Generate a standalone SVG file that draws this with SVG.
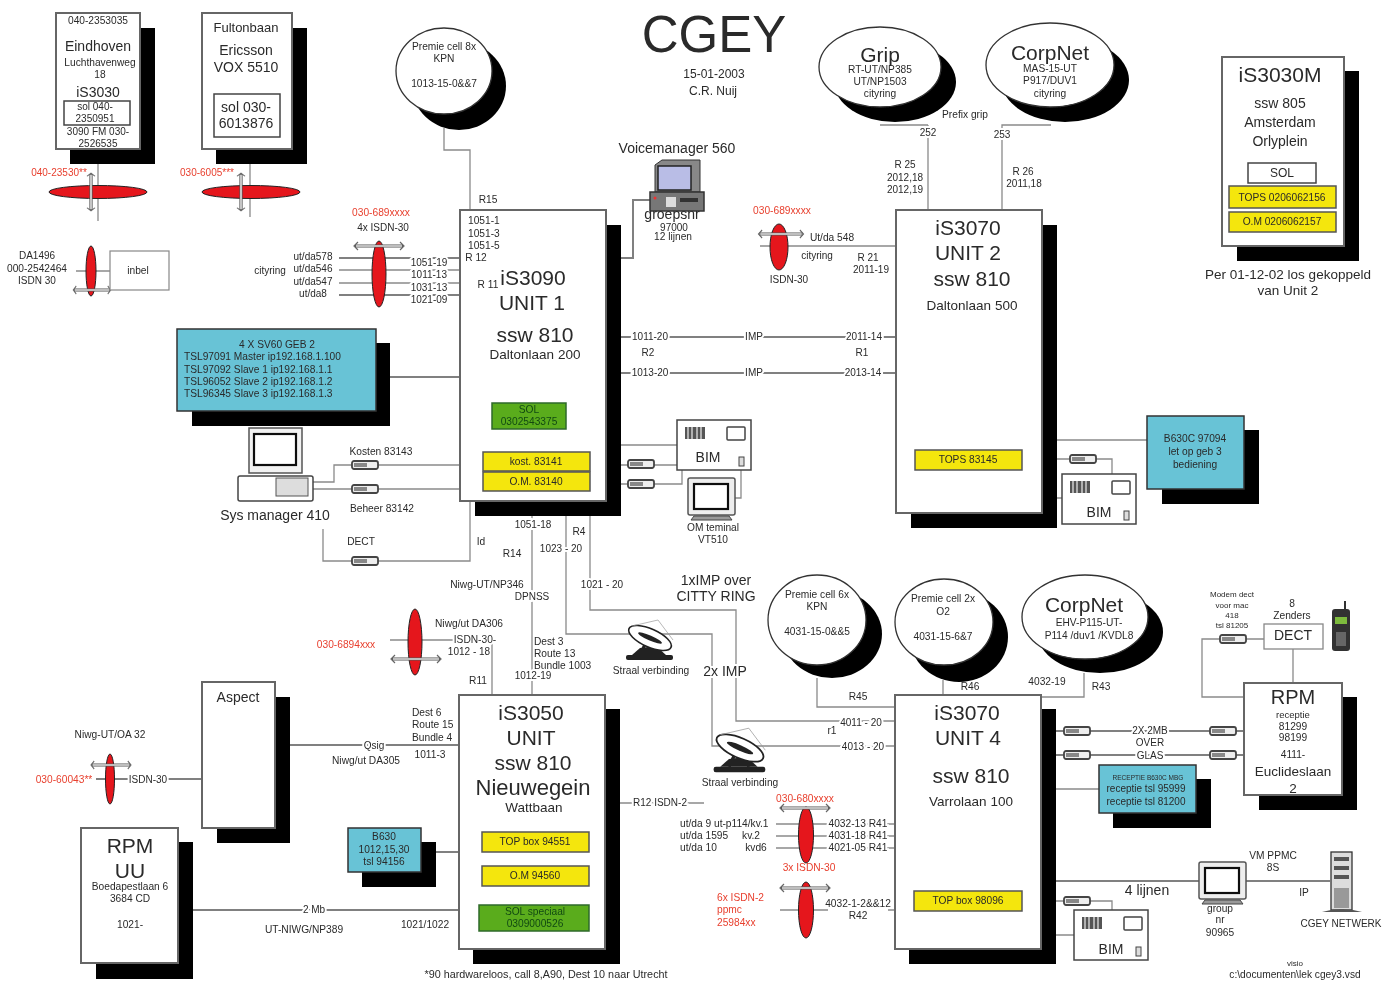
<svg xmlns="http://www.w3.org/2000/svg" xmlns:xlink="http://www.w3.org/1999/xlink" width="1394" height="982" viewBox="0 0 1394 982">
<style>
text{font-family:"Liberation Sans",Arial,sans-serif;text-anchor:middle;fill:#2a2a2a}
.s8{font-size:8px}.s9{font-size:10.2px}.s10{font-size:10px}.s12{font-size:12px}.s13{font-size:13.5px}.s14{font-size:14px}.s21{font-size:21px}
.l{text-anchor:start}
.r{fill:#e8402f}
.dg{fill:#124a10}
.onl{stroke:#fff;stroke-width:4px;paint-order:stroke}
.sh{fill:#000}
.bx{fill:#fff;stroke:#666;stroke-width:2}
.ib{fill:#fff;stroke:#444;stroke-width:1.5}
.yl{fill:#f4e60a;stroke:#555;stroke-width:1.5}
.gr{fill:#5aac1e;stroke:#2f6a2a;stroke-width:1.5}
.cy{fill:#68c3d6;stroke:#333;stroke-width:1.5}
.red{fill:#e5141f;stroke:#222;stroke-width:1}
.c{fill:none;stroke:#8a8a8a;stroke-width:1.3}
.c2{fill:none;stroke:#808080;stroke-width:2}
.dash{fill:none;stroke:#555;stroke-width:3.2}
.dain{fill:none;stroke:#e2e2e2;stroke-width:1.6}
.dp{fill:none;stroke:#666;stroke-width:1.2}
</style>
<defs>
<filter id="soft" filterUnits="userSpaceOnUse" x="0" y="0" width="1394" height="982"><feGaussianBlur stdDeviation="0.6"/></filter>
<g id="plug"><rect x="0" y="-4" width="26" height="8" rx="2" fill="#eee" stroke="#444" stroke-width="1.8"/><rect x="2" y="-2" width="13" height="4" fill="#888"/></g>
<g id="dah"><path class="dash" d="M-24 0H24"/><path class="dp" d="M-21 -4L-25 0L-21 4M21 -4L25 0L21 4"/><path class="dain" d="M-23 0H23"/></g>
<g id="bim"><rect x="0" y="0" width="74" height="50" class="ib"/><path d="M8 7h20v12H8z" fill="#555"/><path d="M11 7v12M15 7v12M20 7v12M24 7v12" stroke="#eee" stroke-width="1.2"/><rect x="50" y="7" width="18" height="13" rx="1" fill="#fff" stroke="#444" stroke-width="1.5"/><rect x="62" y="37" width="5" height="9" fill="#ddd" stroke="#444"/></g>
<g id="mon"><rect x="0" y="0" width="47" height="37" rx="2" fill="#eee" stroke="#555" stroke-width="1.5"/><rect x="6" y="6" width="34" height="25" fill="#fff" stroke="#111" stroke-width="2.2"/><path d="M6 38h35l3 4H3z" fill="#999" stroke="#444"/></g>
<g id="dish"><path d="M-10 10L-18 17H16L6 8" fill="#222"/><path d="M-3 2L-10 17M3 3L8 17" stroke="#222" stroke-width="3"/><rect x="-24" y="17" width="47" height="5" rx="2" fill="#222"/><ellipse rx="23" ry="9" transform="rotate(24)" fill="#fff" stroke="#222" stroke-width="1.6"/><ellipse rx="13" ry="2.5" transform="rotate(24)" fill="#222"/><path d="M-18 -12L8 -18L23 2" fill="none" stroke="#999" stroke-width=".7"/></g>
</defs>
<g filter="url(#soft)">
<g id="connectors">
<path class="c" d="M98 160V221M250 145V217"/>
<path class="c" d="M76 271H110"/>
<path class="c2" d="M339 258H460M339 295H460"/><path class="c" d="M339 270H460M339 283H460M470 270V295"/>
<path class="c" d="M444 128V150H470V210"/>
<path class="c2" d="M621 258H633V200H650"/>
<path class="c" d="M760 246H896"/>
<path class="c2" d="M621 337H896M621 373H896"/>
<path class="c2" d="M390 377H461"/>
<path class="c" d="M313 482H334V465H463M313 489H460"/>
<path class="c" d="M323 529V561H470V500"/>
<path class="c" d="M621 445H677M590 465H677M590 484H682V470M741 470V498H735"/>
<path class="c" d="M532 516V695M566 516V634H712V746H896M590 516V610H736V721H896"/>
<path class="c" d="M928 125H880M928 125V210M1051 125H1002V210"/>
<path class="c" d="M1057 440H1147M1022 459H1112V474M1056 498H1062"/>
<path class="c" d="M390 640H492V695"/>
<path class="c2" d="M290 745H459"/><path class="c2" d="M96 779H202"/>
<path class="c2" d="M193 910H459M436 852H459"/>
<path class="c" d="M620 803H704"/>
<path class="c" d="M817 678V707H895M943 680V695M1084 673V697H1003"/>
<path class="c" d="M776 824H895M776 836H895M776 848H895M780 910H828M888 910L895 910"/>
<path class="c2" d="M1056 731H1244M1056 755H1244"/>
<path class="c" d="M1056 789H1099M1293 649V683M1245 639H1264"/>
<path class="c" d="M1220 639H1202V697H1244"/>
<path class="c2" d="M1036 881H1199M1246 881H1330"/>
<path class="c" d="M1022 901H1112V910M1056 935H1074"/>
</g>

<g id="title"><text x="714" y="52" font-size="51">CGEY</text><text x="714" y="78" class="s12">15-01-2003</text><text x="713" y="95" class="s12">C.R. Nuij</text></g>

<g id="eindhoven"><rect x="70" y="28" width="85" height="136" class="sh"/><rect x="56" y="13" width="84" height="136" class="bx"/><rect x="64" y="101" width="66" height="24" class="ib"/>
<text x="98" y="24" class="s9">040-2353035</text><text x="98" y="51" font-size="14">Eindhoven</text><text x="100" y="66" class="s9">Luchthavenweg</text><text x="100" y="78" class="s9">18</text><text x="98" y="97" font-size="14">iS3030</text><text x="95" y="110" class="s10">sol 040-</text><text x="95" y="122" class="s10">2350951</text><text x="98" y="135" class="s10">3090 FM 030-</text><text x="98" y="147" class="s10">2526535</text></g>
<g id="fultonbaan"><rect x="216" y="28" width="91" height="136" class="sh"/><rect x="202" y="13" width="90" height="136" class="bx"/><rect x="214" y="94" width="66" height="43" class="ib"/>
<text x="246" y="32" font-size="13">Fultonbaan</text><text x="246" y="55" font-size="14">Ericsson</text><text x="246" y="72" font-size="14">VOX 5510</text><text x="246" y="112" font-size="14">sol 030-</text><text x="246" y="128" font-size="14">6013876</text></g>
<g id="trunk-eindhoven"><ellipse cx="98" cy="192" rx="49" ry="6.5" class="red"/><use href="#dah" transform="translate(91,192) rotate(90) scale(.75,1)"/><text x="59" y="176" class="s10 r">040-23530**</text></g>
<g id="trunk-fulton"><ellipse cx="251" cy="192" rx="49" ry="6.5" class="red"/><use href="#dah" transform="translate(241,192) rotate(90) scale(.75,1)"/><text x="207" y="176" class="s10 r">030-6005***</text></g>
<g id="trunk-inbel"><ellipse cx="91" cy="271" rx="5" ry="25" class="red"/><use href="#dah" transform="translate(92,290) scale(.75,1)"/><text x="37" y="259" class="s10">DA1496</text><text x="37" y="272" class="s9">000-2542464</text><text x="37" y="284" class="s10">ISDN 30</text></g>
<g id="inbel"><rect x="110" y="251" width="59" height="39" fill="#fff" stroke="#888" stroke-width="1.2"/><text x="138" y="274" class="s9">inbel</text></g>
<g id="trunk-citying"><ellipse cx="379" cy="274" rx="7" ry="33" class="red"/><use href="#dah" transform="translate(379,246)"/>
<text x="381" y="216" class="s9 r">030-689xxxx</text><text x="383" y="231" class="s10">4x ISDN-30</text><text x="270" y="274" class="s10">cityring</text>
<text x="313" y="260" class="s10">ut/da578</text><text x="313" y="272" class="s10">ut/da546</text><text x="313" y="285" class="s10">ut/da547</text><text x="313" y="297" class="s10">ut/da8</text>
<text x="429" y="266" class="s10 onl">1051-19</text><text x="429" y="278" class="s10 onl">1011-13</text><text x="429" y="291" class="s10 onl">1031-13</text><text x="429" y="303" class="s10 onl">1021-09</text></g>
<g id="premie-8x"><ellipse cx="459" cy="86" rx="47" ry="44" class="sh"/><ellipse cx="444" cy="71" rx="48" ry="43" fill="#fff" stroke="#333" stroke-width="1.3"/><text x="444" y="50" class="s9">Premie cell 8x</text><text x="444" y="62" class="s9">KPN</text><text x="444" y="87" class="s9">1013-15-0&amp;&amp;7</text></g>

<g id="is3090"><rect x="475" y="225" width="146" height="291" class="sh"/><rect x="460" y="210" width="146" height="291" class="bx"/>
<rect x="492" y="403" width="74" height="26" class="gr"/><rect x="483" y="452" width="107" height="19" class="yl"/><rect x="483" y="472" width="107" height="19" class="yl"/>
<text x="468" y="224" class="s9 l">1051-1</text><text x="468" y="237" class="s9 l">1051-3</text><text x="468" y="249" class="s9 l">1051-5</text><text x="476" y="261" class="s9">R 12</text><text x="488" y="288" class="s9">R 11</text>
<text x="533" y="285" class="s21">iS3090</text><text x="532" y="310" class="s21">UNIT 1</text><text x="535" y="342" class="s21">ssw 810</text><text x="535" y="359" class="s13">Daltonlaan 200</text>
<text x="529" y="413" class="s9 dg">SOL</text><text x="529" y="425" class="s9 dg">0302543375</text><text x="536" y="465" class="s9">kost. 83141</text><text x="536" y="485" class="s9">O.M. 83140</text></g>
<text x="488" y="203" class="s9">R15</text>

<g id="voicemanager"><text x="677" y="153" class="s14">Voicemanager 560</text>
<path d="M655 165l7-5h38v32h-45z" fill="#888" stroke="#333"/><rect x="658" y="166" width="33" height="24" fill="#b9bde6" stroke="#222" stroke-width="1.5"/><rect x="650" y="192" width="54" height="19" fill="#777" stroke="#333" stroke-width="1.5"/><rect x="666" y="197" width="10" height="10" fill="#ddd"/><rect x="680" y="198" width="18" height="4" fill="#333"/><circle cx="655" cy="198" r="1.5" fill="#e33"/>
<text x="672" y="219" class="s14">groepsnr</text><text x="674" y="231" class="s10">97000</text><text x="673" y="240" class="s9">12 lijnen</text></g>
<g id="trunk-unit2"><ellipse cx="779" cy="247" rx="9" ry="23" class="red"/><use href="#dah" transform="translate(781,234) scale(.9,1)"/><text x="782" y="214" class="s9 r">030-689xxxx</text><text x="832" y="241" class="s9">Ut/da 548</text><text x="817" y="259" class="s10">cityring</text><text x="789" y="283" class="s10">ISDN-30</text><text x="868" y="261" class="s10">R 21</text><text x="871" y="273" class="s10">2011-19</text></g>
<g id="links12"><text x="650" y="340" class="s10 onl">1011-20</text><text x="754" y="340" class="s10 onl">IMP</text><text x="864" y="340" class="s10 onl">2011-14</text><text x="648" y="356" class="s10">R2</text><text x="862" y="356" class="s10">R1</text><text x="650" y="376" class="s10 onl">1013-20</text><text x="754" y="376" class="s10 onl">IMP</text><text x="863" y="376" class="s10 onl">2013-14</text></g>

<g id="grip"><ellipse cx="895" cy="82" rx="61" ry="40" class="sh"/><ellipse cx="880" cy="67" rx="61" ry="40" fill="#fff" stroke="#333" stroke-width="1.3"/><text x="880" y="62" class="s21">Grip</text><text x="880" y="73" class="s9">RT-UT/NP385</text><text x="880" y="85" class="s9">UT/NP1503</text><text x="880" y="97" class="s9">cityring</text></g>
<g id="corpnet-top"><ellipse cx="1065" cy="80" rx="64" ry="42" class="sh"/><ellipse cx="1050" cy="65" rx="64" ry="42" fill="#fff" stroke="#333" stroke-width="1.3"/><text x="1050" y="60" class="s21">CorpNet</text><text x="1050" y="72" class="s9">MAS-15-UT</text><text x="1050" y="84" class="s9">P917/DUV1</text><text x="1050" y="97" class="s9">cityring</text></g>
<g id="labels-top"><text x="965" y="118" class="s9">Prefix grip</text><text x="928" y="136" class="s10 onl">252</text><text x="1002" y="138" class="s10 onl">253</text><text x="905" y="168" class="s10">R 25</text><text x="905" y="181" class="s10">2012,18</text><text x="905" y="193" class="s10">2012,19</text><text x="1023" y="175" class="s10">R 26</text><text x="1024" y="187" class="s10">2011,18</text></g>

<g id="is3070-2"><rect x="911" y="225" width="146" height="303" class="sh"/><rect x="896" y="210" width="146" height="303" class="bx"/><rect x="915" y="450" width="107" height="20" class="yl"/>
<text x="968" y="235" class="s21">iS3070</text><text x="968" y="260" class="s21">UNIT 2</text><text x="972" y="286" class="s21">ssw 810</text><text x="972" y="310" class="s13">Daltonlaan  500</text><text x="968" y="463" class="s9">TOPS 83145</text></g>
<g id="b630c"><rect x="1162" y="430" width="97" height="74" class="sh"/><rect x="1147" y="416" width="97" height="73" class="cy"/><text x="1195" y="442" class="s9">B630C 97094</text><text x="1195" y="455" class="s9">let op geb 3</text><text x="1195" y="468" class="s9">bediening</text></g>
<g id="bim-2"><use href="#bim" transform="translate(1062,474)"/><text x="1099" y="517" class="s14">BIM</text></g>
<use id="plug-u2" href="#plug" transform="translate(1070,459)"/>

<g id="is3030m"><rect x="1237" y="71" width="122" height="190" class="sh"/><rect x="1222" y="57" width="122" height="189" class="bx"/><rect x="1248" y="163" width="68" height="20" class="ib"/><rect x="1229" y="186" width="107" height="22" class="yl"/><rect x="1229" y="212" width="107" height="20" class="yl"/>
<text x="1280" y="82" class="s21">iS3030M</text><text x="1280" y="108" class="s14">ssw 805</text><text x="1280" y="127" class="s14">Amsterdam</text><text x="1280" y="146" class="s14">Orlyplein</text><text x="1282" y="177" class="s12">SOL</text><text x="1282" y="201" class="s9">TOPS 0206062156</text><text x="1282" y="225" class="s9">O.M 0206062157</text>
<text x="1288" y="279" class="s13">Per 01-12-02 los gekoppeld</text><text x="1288" y="295" class="s13">van Unit 2</text></g>

<g id="sv60"><rect x="192" y="343" width="198" height="83" class="sh"/><rect x="177" y="329" width="199" height="82" class="cy"/><text x="277" y="348" class="s9">4 X SV60 GEB 2</text><text x="184" y="360" class="s9 l">TSL97091 Master ip192.168.1.100</text><text x="184" y="373" class="s9 l">TSL97092 Slave 1 ip192.168.1.1</text><text x="184" y="385" class="s9 l">TSL96052 Slave 2 ip192.168.1.2</text><text x="184" y="397" class="s9 l">TSL96345 Slave 3 ip192.168.1.3</text></g>
<g id="sysmanager"><rect x="249" y="428" width="53" height="45" fill="#f2f2f2" stroke="#555" stroke-width="1.5"/><rect x="254" y="434" width="42" height="31" fill="#fff" stroke="#111" stroke-width="2.2"/><rect x="238" y="476" width="75" height="25" rx="2" fill="#fff" stroke="#444" stroke-width="1.5"/><rect x="276" y="478" width="32" height="18" fill="#ddd" stroke="#555"/><text x="275" y="520" class="s14">Sys manager 410</text></g>
<g id="plugs-sys"><use href="#plug" transform="translate(352,465)"/><use href="#plug" transform="translate(352,489)"/><use href="#plug" transform="translate(352,561)"/><text x="381" y="455" class="s9">Kosten 83143</text><text x="382" y="512" class="s9">Beheer 83142</text><text x="361" y="545" class="s9">DECT</text></g>
<g id="bim-1"><use href="#bim" transform="translate(677,420)"/><text x="708" y="462" class="s14">BIM</text></g>
<g id="plugs-1"><use href="#plug" transform="translate(628,464)"/><use href="#plug" transform="translate(628,484)"/></g>
<g id="om-terminal"><use href="#mon" transform="translate(688,478)"/><text x="713" y="531" class="s9">OM teminal</text><text x="713" y="543" class="s9">VT510</text></g>

<g id="labels-mid"><text x="481" y="545" class="s9">Id</text><text x="512" y="557" class="s9">R14</text><text x="533" y="528" class="s10 onl">1051-18</text><text x="579" y="535" class="s9 onl">R4</text><text x="561" y="552" class="s10 onl">1023 - 20</text><text x="602" y="588" class="s10 onl">1021 - 20</text><text x="487" y="588" class="s9">Niwg-UT/NP346</text><text x="532" y="600" class="s10 onl">DPNSS</text><text x="716" y="585" class="s14">1xIMP over</text><text x="716" y="601" class="s14">CITTY RING</text>
<text x="469" y="627" class="s9">Niwg/ut DA306</text><text x="475" y="643" class="s9 onl">ISDN-30-</text><text x="469" y="655" class="s10">1012 - 18</text><text x="478" y="684" class="s9">R11</text><text x="534" y="645" class="s9 l">Dest 3</text><text x="534" y="657" class="s9 l">Route 13</text><text x="534" y="669" class="s9 l">Bundle 1003</text><text x="533" y="679" class="s10 onl">1012-19</text></g>
<g id="trunk-nwg"><ellipse cx="415" cy="642" rx="7" ry="33" class="red"/><use href="#dah" transform="translate(416,659)"/><text x="346" y="648" class="s9 r">030-6894xxx</text></g>
<g id="dish-1"><use href="#dish" transform="translate(650,638)"/><text x="651" y="674" class="s9">Straal verbinding</text></g>
<text x="725" y="676" class="s14 onl">2x IMP</text>
<g id="dish-2"><use href="#dish" transform="translate(740,748) scale(1.1)"/><text x="740" y="786" class="s9">Straal verbinding</text></g>

<g id="premie-6x"><ellipse cx="832" cy="634" rx="50" ry="44" class="sh"/><ellipse cx="817" cy="620" rx="49" ry="45" fill="#fff" stroke="#333" stroke-width="1.3"/><text x="817" y="598" class="s9">Premie cell 6x</text><text x="817" y="610" class="s9">KPN</text><text x="817" y="635" class="s9">4031-15-0&amp;&amp;5</text></g>
<g id="premie-2x"><ellipse cx="959" cy="637" rx="49" ry="45" class="sh"/><ellipse cx="944" cy="622" rx="49" ry="43" fill="#fff" stroke="#333" stroke-width="1.3"/><text x="943" y="602" class="s9">Premie cell 2x</text><text x="943" y="615" class="s9">O2</text><text x="943" y="640" class="s9">4031-15-6&amp;7</text></g>
<g id="corpnet-bottom"><ellipse cx="1100" cy="632" rx="63" ry="41" class="sh"/><ellipse cx="1085" cy="617" rx="63" ry="42" fill="#fff" stroke="#333" stroke-width="1.3"/><text x="1084" y="612" class="s21">CorpNet</text><text x="1089" y="626" class="s9">EHV-P115-UT-</text><text x="1089" y="639" class="s9">P114 /duv1 /KVDL8</text></g>
<g id="labels-u4"><text x="858" y="700" class="s9">R45</text><text x="970" y="690" class="s9">R46</text><text x="1047" y="685" class="s9">4032-19</text><text x="1101" y="690" class="s9">R43</text><text x="861" y="726" class="s10 onl">4011 - 20</text><text x="832" y="734" class="s9">r1</text><text x="863" y="750" class="s10 onl">4013 - 20</text></g>

<g id="is3050"><rect x="473" y="709" width="147" height="255" class="sh"/><rect x="459" y="695" width="146" height="254" class="bx"/><rect x="482" y="832" width="107" height="20" class="yl"/><rect x="482" y="866" width="107" height="20" class="yl"/><rect x="479" y="905" width="110" height="26" class="gr"/>
<text x="531" y="720" class="s21">iS3050</text><text x="531" y="745" class="s21">UNIT</text><text x="533" y="770" class="s21">ssw 810</text><text x="533" y="795" font-size="22">Nieuwegein</text><text x="534" y="812" class="s13">Wattbaan</text><text x="535" y="845" class="s9">TOP box 94551</text><text x="535" y="879" class="s9">O.M 94560</text><text x="535" y="915" class="s9 dg">SOL speciaal</text><text x="535" y="927" class="s9 dg">0309000526</text></g>
<g id="labels-aspect"><text x="412" y="716" class="s9 l">Dest 6</text><text x="412" y="728" class="s9 l">Route 15</text><text x="412" y="741" class="s9 l">Bundle 4</text><text x="430" y="758" class="s9">1011-3</text><text x="374" y="749" class="s10 onl">Qsig</text><text x="366" y="764" class="s9">Niwg/ut DA305</text></g>
<g id="aspect"><rect x="217" y="697" width="73" height="146" class="sh"/><rect x="202" y="682" width="73" height="146" class="bx"/><text x="238" y="702" class="s14">Aspect</text></g>
<g id="trunk-aspect"><ellipse cx="110" cy="779" rx="4.5" ry="25" class="red"/><use href="#dah" transform="translate(111,765) scale(.8,1)"/><text x="110" y="738" class="s9">Niwg-UT/OA 32</text><text x="64" y="783" class="s9 r">030-60043**</text><text x="148" y="783" class="s10 onl">ISDN-30</text></g>
<g id="rpm-uu"><rect x="96" y="842" width="97" height="137" class="sh"/><rect x="81" y="828" width="97" height="135" class="bx"/><text x="130" y="853" class="s21">RPM</text><text x="130" y="878" class="s21">UU</text><text x="130" y="890" class="s9">Boedapestlaan 6</text><text x="130" y="902" class="s9">3684 CD</text><text x="130" y="928" class="s9">1021-</text></g>
<g id="b630"><rect x="362" y="842" width="74" height="45" class="sh"/><rect x="348" y="828" width="73" height="44" class="cy"/><text x="384" y="840" class="s9">B630</text><text x="384" y="853" class="s9">1012,15,30</text><text x="384" y="865" class="s9">tsl 94156</text></g>
<g id="labels-bottom"><text x="314" y="913" class="s10 onl">2 Mb</text><text x="304" y="933" class="s9">UT-NIWG/NP389</text><text x="425" y="928" class="s9">1021/1022</text><text x="546" y="978" font-size="10.8">*90 hardwareloos, call 8,A90, Dest 10 naar Utrecht</text><text x="660" y="806" class="s10 onl">R12  ISDN-2</text></g>

<g id="trunk-u4-a"><ellipse cx="806" cy="835" rx="7.5" ry="28" class="red"/><use href="#dah" transform="translate(805,808)"/><text x="805" y="802" class="s9 r">030-680xxxx</text><text x="680" y="827" class="s9 l">ut/da 9 ut-p114/kv.1</text><text x="680" y="839" class="s9 l">ut/da 1595</text><text x="751" y="839" class="s9 onl">kv.2</text><text x="680" y="851" class="s9 l">ut/da 10</text><text x="756" y="851" class="s9 onl">kvd6</text><text x="858" y="827" class="s9 onl">4032-13 R41</text><text x="858" y="839" class="s9 onl">4031-18 R41</text><text x="858" y="851" class="s9 onl">4021-05 R41</text><text x="809" y="871" class="s9 r">3x ISDN-30</text></g>
<g id="trunk-u4-b"><ellipse cx="806" cy="910" rx="7.5" ry="28" class="red"/><use href="#dah" transform="translate(805,888)"/><text x="717" y="901" class="s9 l r">6x ISDN-2</text><text x="717" y="913" class="s9 l r">ppmc</text><text x="717" y="926" class="s9 l r">25984xx</text><text x="858" y="907" class="s9">4032-1-2&amp;&amp;12</text><text x="858" y="919" class="s9">R42</text></g>

<g id="is3070-4"><rect x="909" y="709" width="147" height="255" class="sh"/><rect x="895" y="695" width="146" height="254" class="bx"/><rect x="914" y="891" width="108" height="20" class="yl"/><text x="967" y="720" class="s21">iS3070</text><text x="968" y="745" class="s21">UNIT 4</text><text x="971" y="783" class="s21">ssw 810</text><text x="971" y="806" class="s13">Varrolaan  100</text><text x="968" y="904" class="s9">TOP box 98096</text></g>
<g id="plugs-4"><use href="#plug" transform="translate(1064,731)"/><use href="#plug" transform="translate(1064,755)"/><use href="#plug" transform="translate(1210,731)"/><use href="#plug" transform="translate(1210,755)"/><use href="#plug" transform="translate(1064,901)"/><text x="1150" y="734" class="s10 onl">2X 2MB</text><text x="1150" y="746" class="s10 onl">OVER</text><text x="1150" y="759" class="s10 onl">GLAS</text></g>
<g id="receptie"><rect x="1113" y="779" width="98" height="49" class="sh"/><rect x="1099" y="765" width="97" height="48" class="cy"/><text x="1148" y="780" font-size="6.5">RECEPTIE B630C MBG</text><text x="1146" y="792" class="s10">receptie tsl 95999</text><text x="1146" y="805" class="s10">receptie tsl 81200</text></g>
<g id="rpm"><rect x="1259" y="697" width="98" height="113" class="sh"/><rect x="1244" y="683" width="98" height="112" class="bx"/><text x="1293" y="704" font-size="20">RPM</text><text x="1293" y="718" font-size="9.5">receptie</text><text x="1293" y="730" class="s9">81299</text><text x="1293" y="741" class="s9">98199</text><text x="1293" y="758" class="s9">4111-</text><text x="1293" y="776" class="s13">Euclideslaan</text><text x="1293" y="793" class="s13">2</text></g>
<g id="dect"><rect x="1264" y="624" width="59" height="25" fill="#fff" stroke="#888" stroke-width="1.3"/><text x="1293" y="640" class="s14">DECT</text><text x="1292" y="607" class="s9">8</text><text x="1292" y="619" class="s9">Zenders</text></g>
<g id="modem"><use href="#plug" transform="translate(1220,639)"/><text x="1232" y="597" class="s8">Modem dect</text><text x="1232" y="608" class="s8">voor mac</text><text x="1232" y="618" class="s8">418</text><text x="1232" y="628" class="s8">tsl 81205</text></g>
<g id="phone"><rect x="1332" y="609" width="18" height="42" rx="3" fill="#333"/><path d="M1345 610V601" stroke="#333" stroke-width="2"/><rect x="1335" y="617" width="12" height="7" fill="#7dbb3c"/><rect x="1336" y="632" width="10" height="14" fill="#666"/></g>
<g id="group-mon"><use href="#mon" transform="translate(1199,862)"/><text x="1220" y="912" class="s9">group</text><text x="1220" y="923" class="s9">nr</text><text x="1220" y="936" class="s9">90965</text></g>
<g id="labels-net"><text x="1147" y="895" class="s14">4 lijnen</text><text x="1273" y="859" class="s9">VM PPMC</text><text x="1273" y="871" class="s9">8S</text><text x="1304" y="896" class="s9">IP</text><text x="1295" y="966" class="s8">visio</text><text x="1295" y="978" class="s9">c:\documenten\lek cgey3.vsd</text></g>
<g id="cgey-netwerk"><rect x="1331" y="852" width="21" height="58" fill="#ddd" stroke="#333" stroke-width="1.3"/><path d="M1334 857h15v4h-15zM1334 866h15v4h-15zM1334 875h15v4h-15z" fill="#555"/><path d="M1334 888h15v20h-15z" fill="#999"/><path d="M1322 912q20-6 40 0z" fill="#555"/><text x="1341" y="927" class="s10">CGEY NETWERK</text></g>
<g id="bim-4"><use href="#bim" transform="translate(1074,910)"/><text x="1111" y="954" class="s14">BIM</text></g>
</g>
</svg>
